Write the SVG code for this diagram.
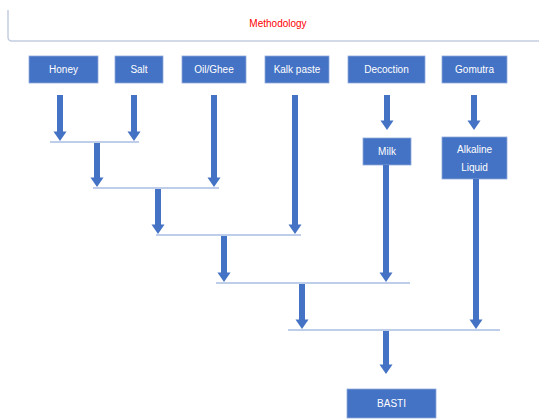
<svg xmlns="http://www.w3.org/2000/svg" xmlns:xlink="http://www.w3.org/1999/xlink" width="539" height="419" viewBox="0 0 539 419">
<defs>
<style>
.box{fill:#4472C4;stroke:#8FAADC;stroke-width:0.8}
.lbl{fill:#FFFFFF;font-family:"Liberation Sans",Arial,sans-serif;font-size:10px;text-anchor:middle}
.bar{stroke:#A9BEE3;stroke-width:1.5;fill:none}
.shaft{stroke:#4472C4;stroke-width:6;fill:none}
</style>
<path id="hd" d="M-6.5,-9.5 L6.5,-9.5 L0,0 Z" fill="#4472C4"/>
</defs>
<rect width="539" height="419" fill="#FFFFFF"/>
<g id="header">
<path d="M8,10 V37 Q8,41 12,41 H539" fill="none" stroke="#C5CEE0" stroke-width="1.5"/>
<text x="278" y="27" font-family="'Liberation Sans',Arial,sans-serif" font-size="10" fill="#FF0000" text-anchor="middle">Methodology</text>
</g>
<g id="honey"><rect class="box" x="29" y="56" width="69" height="27"/><text class="lbl" x="63.5" y="73">Honey</text></g>
<g id="salt"><rect class="box" x="115" y="56" width="48" height="27"/><text class="lbl" x="139" y="73">Salt</text></g>
<g id="oilghee"><rect class="box" x="182" y="56" width="64" height="27"/><text class="lbl" x="214" y="73">Oil/Ghee</text></g>
<g id="kalk"><rect class="box" x="265" y="56" width="64" height="27"/><text class="lbl" x="297" y="73">Kalk paste</text></g>
<g id="decoction"><rect class="box" x="348" y="56" width="77" height="27"/><text class="lbl" x="386.5" y="73">Decoction</text></g>
<g id="gomutra"><rect class="box" x="442" y="56" width="65" height="27"/><text class="lbl" x="474.5" y="73">Gomutra</text></g>
<g id="milk"><rect class="box" x="363" y="138" width="48" height="27"/><text class="lbl" x="387" y="155">Milk</text></g>
<g id="alkaline"><rect class="box" x="442" y="137" width="65" height="42"/><text class="lbl" x="474.5" y="153">Alkaline</text><text class="lbl" x="474.5" y="171">Liquid</text></g>
<g id="basti"><rect class="box" x="347" y="389" width="89" height="29"/><text class="lbl" x="391.5" y="407">BASTI</text></g>
<g id="connectors">
<line class="bar" x1="50" y1="142" x2="139" y2="142"/>
<line class="bar" x1="93" y1="188" x2="219" y2="188"/>
<line class="bar" x1="156" y1="235" x2="301" y2="235"/>
<line class="bar" x1="216" y1="283" x2="410" y2="283"/>
<line class="bar" x1="288" y1="330" x2="500" y2="330"/>
<line class="shaft" x1="60" y1="95" x2="60" y2="132"/><use xlink:href="#hd" x="60" y="141"/>
<line class="shaft" x1="134" y1="95" x2="134" y2="132"/><use xlink:href="#hd" x="134" y="141"/>
<line class="shaft" x1="97" y1="143" x2="97" y2="178"/><use xlink:href="#hd" x="97" y="187"/>
<line class="shaft" x1="214" y1="95" x2="214" y2="178"/><use xlink:href="#hd" x="214" y="187"/>
<line class="shaft" x1="158" y1="189" x2="158" y2="225"/><use xlink:href="#hd" x="158" y="234"/>
<line class="shaft" x1="295" y1="95" x2="295" y2="225"/><use xlink:href="#hd" x="295" y="234"/>
<line class="shaft" x1="224" y1="236" x2="224" y2="273"/><use xlink:href="#hd" x="224" y="282"/>
<line class="shaft" x1="387" y1="95" x2="387" y2="121"/><use xlink:href="#hd" x="387" y="130"/>
<line class="shaft" x1="474" y1="95" x2="474" y2="121"/><use xlink:href="#hd" x="474" y="130"/>
<line class="shaft" x1="386" y1="165" x2="386" y2="273"/><use xlink:href="#hd" x="386" y="282"/>
<line class="shaft" x1="302" y1="284" x2="302" y2="320"/><use xlink:href="#hd" x="302" y="329"/>
<line class="shaft" x1="476" y1="179" x2="476" y2="320"/><use xlink:href="#hd" x="476" y="329"/>
<line class="shaft" x1="386" y1="331" x2="386" y2="365"/><use xlink:href="#hd" x="386" y="374"/>
</g>
</svg>
